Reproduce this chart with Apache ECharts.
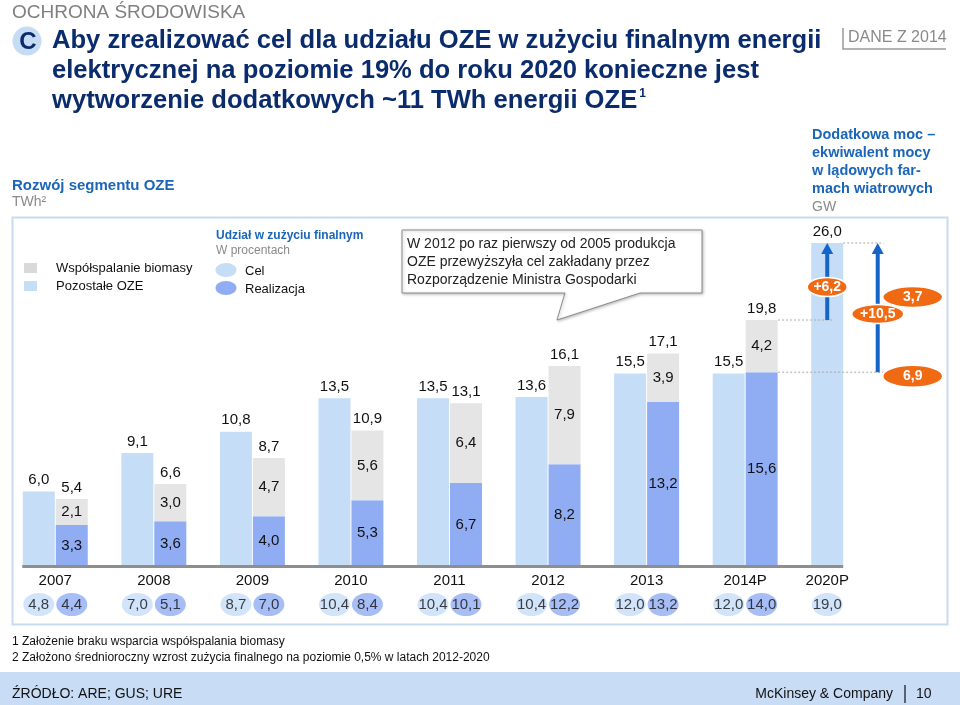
<!DOCTYPE html>
<html><head><meta charset="utf-8">
<script src="https://cdn.jsdelivr.net/npm/echarts@6/dist/echarts.min.js"></script>
<style>html,body{margin:0;padding:0;background:#fff}#c{width:960px;height:705px}</style>
</head><body><div id="c"></div>
<script>
// ---- data ----
var categories = ['2007','2008','2009','2010','2011','2012','2013','2014P','2020P'];
var targetTWh = [6.0, 9.1, 10.8, 13.5, 13.5, 13.6, 15.5, 15.5, 26.0];
var otherRES = [3.3, 3.6, 4.0, 5.3, 6.7, 8.2, 13.2, 15.6, null];
var biomassCofiring = [2.1, 3.0, 4.7, 5.6, 6.4, 7.9, 3.9, 4.2, null];
var shareTarget = [4.8, 7.0, 8.7, 10.4, 10.4, 10.4, 12.0, 12.0, 19.0];
var shareActual = [4.4, 5.1, 7.0, 8.4, 10.1, 12.2, 13.2, 14.0, null];
var gapTWh = [6.2, 10.5];
var windGW = [6.9, 3.7];

var FONT = '"Liberation Sans", Arial, sans-serif';
function fmt(v){ return (v == null) ? '' : v.toFixed(1).replace('.', ','); }
var totals = otherRES.map(function(v, i){ return v == null ? null : +(v + biomassCofiring[i]).toFixed(1); });

var C_TARGET = '#C5DDF7', C_REAL = '#90ADF4', C_GRAY = '#E5E5E5', C_OR = '#EF6A12', C_ARROW = '#1565C8';
var NAVY = '#0B2C6C', BLUE = '#1B66B8', GREYT = '#8A8A8A';

function T(text, x, y, font, fill, align){
  return {type:'text', x:x, y:y, silent:true, style:{text:text, font:font, fill:fill||'#111', align:align||'left', verticalAlign:'middle'}};
}

function renderAnnot(params, api){
  var half = 16.5;
  var x20 = api.coord([8, 0])[0];
  var x14 = api.coord([7, 0])[0];
  var x07 = api.coord([0, 0])[0];
  var y0 = api.coord([0, 0])[1];
  var yT = api.coord([8, targetTWh[8]])[1];
  var yA = api.coord([7, totals[7]])[1];
  var yB = api.coord([7, otherRES[7]])[1];
  var xA1 = x20 - half, xA2 = x20 + 34, xE = xA2 + 35;
  var dash = {stroke:'#A8A8A8', lineWidth:1, lineDash:[2,2]};
  var kids = [];
  kids.push({type:'rect', shape:{x:x07 - 33, y:y0 - 1, width:(x20 - 0.5) - (x07 - 33), height:3}, style:{fill:'#8E8E8E'}});
  kids.push({type:'line', shape:{x1:x14 + 33, y1:yA, x2:xA1 + 6, y2:yA}, style:dash});
  kids.push({type:'line', shape:{x1:x20 - 0.5, y1:yT, x2:xA2 + 6, y2:yT}, style:dash});
  kids.push({type:'line', shape:{x1:x14 + 33, y1:yB, x2:xE - 29, y2:yB}, style:dash});
  [[xA1, yA], [xA2, yB]].forEach(function(a){
    kids.push({type:'line', shape:{x1:a[0], y1:a[1], x2:a[0], y2:yT + 10}, style:{stroke:C_ARROW, lineWidth:4}});
    kids.push({type:'polygon', shape:{points:[[a[0]-6, yT+11],[a[0]+6, yT+11],[a[0], yT]]}, style:{fill:C_ARROW}});
  });
  function ell(cx, cy, rx, ry, txt){
    kids.push({type:'ellipse', shape:{cx:cx, cy:cy, rx:rx, ry:ry}, style:{fill:C_OR, stroke:'#fff', lineWidth:1.5}});
    kids.push({type:'text', x:cx, y:cy, style:{text:txt, font:'bold 14px ' + FONT, fill:'#fff', align:'center', verticalAlign:'middle'}});
  }
  var m1 = (yA + yT) / 2, m2 = (yB + yT) / 2;
  ell(xA1, m1 + 5.5, 20, 9.5, '+' + fmt(gapTWh[0]));
  ell(xA2, m2 + 6.5, 26, 9.5, '+' + fmt(gapTWh[1]));
  ell(xE, m2 - 10.5, 30, 10.5, fmt(windGW[1]));
  ell(xE, yB + 4, 30, 11, fmt(windGW[0]));
  return {type:'group', children:kids};
}

var chart = echarts.init(document.getElementById('c'), null, {renderer:'canvas'});
var barLabel = {fontSize:15, fontFamily:FONT, color:'#111'};
var TF = 'bold 25.6px ' + FONT;
var option = {
  backgroundColor:'#fff',
  animation:false,
  textStyle:{fontFamily:FONT},
  grid:[
    {left:6, top:243, width:887, height:323},
    {left:6, top:593, width:887, height:23}
  ],
  xAxis:[
    {type:'category', gridIndex:0, data:categories, axisLine:{show:false}, axisTick:{show:false},
     axisLabel:{fontSize:15, color:'#111', fontFamily:FONT, margin:7,
       formatter:function(v, i){ return i === categories.length - 1 ? '{s|' + v + '}' : v; },
       rich:{s:{fontSize:15, color:'#111', fontFamily:FONT, padding:[0,33,0,0]}}}},
    {type:'category', gridIndex:1, data:categories, show:false}
  ],
  yAxis:[
    {type:'value', gridIndex:0, min:0, max:26, show:false, splitLine:{show:false}},
    {type:'category', gridIndex:1, data:['%'], show:false}
  ],
  series:[
    {name:'Cel', type:'bar', data:targetTWh, barWidth:32, barGap:'3%', itemStyle:{color:C_TARGET},
     label:Object.assign({show:true, position:'top', distance:4, formatter:function(p){return fmt(p.value);}}, barLabel)},
    {name:'Pozostałe OZE', type:'bar', stack:'r', data:otherRES, barWidth:32, barGap:'3%', itemStyle:{color:C_REAL},
     label:Object.assign({show:true, position:'inside', formatter:function(p){return fmt(p.value);}}, barLabel)},
    {name:'Współspalanie biomasy', type:'bar', stack:'r', data:biomassCofiring, barWidth:32, barGap:'3%', itemStyle:{color:C_GRAY},
     label:Object.assign({show:true, position:'inside', formatter:function(p){return fmt(p.value);}}, barLabel)},
    {name:'Suma', type:'bar', stack:'r', data:totals.map(function(v){ return v == null ? null : 0; }), barWidth:32, barGap:'3%',
     itemStyle:{color:'rgba(0,0,0,0)'},
     label:Object.assign({show:true, position:'top', distance:4, formatter:function(p){return fmt(totals[p.dataIndex]);}}, barLabel)},
    {name:'annot', type:'custom', renderItem:renderAnnot, data:[[8, 26]], z:10, silent:true, clip:false},
    {name:'Udział cel', type:'scatter', xAxisIndex:1, yAxisIndex:1, symbol:'circle', symbolSize:[31,23], symbolOffset:[-16.5,0],
     data:shareTarget.map(function(v, i){ return [i, 0, v]; }), itemStyle:{color:C_TARGET}, silent:true,
     label:Object.assign({show:true, position:'inside', formatter:function(p){return fmt(p.value[2]);}}, barLabel)},
    {name:'Udział realizacja', type:'scatter', xAxisIndex:1, yAxisIndex:1, symbol:'circle', symbolSize:[31,23], symbolOffset:[16.5,0],
     data:shareActual.map(function(v, i){ return [i, 0, v]; }).filter(function(d){ return d[2] != null; }),
     itemStyle:{color:C_REAL}, silent:true,
     label:Object.assign({show:true, position:'inside', formatter:function(p){return fmt(p.value[2]);}}, barLabel)}
  ],
  graphic:[
    T('OCHRONA ŚRODOWISKA', 12, 13, '19px ' + FONT, '#7F7F7F'),
    {type:'circle', shape:{cx:27, cy:41, r:14.5}, style:{fill:'#C6DCF5'}, silent:true},
    T('C', 28, 42, 'bold 24px ' + FONT, NAVY, 'center'),
    T('Aby zrealizować cel dla udziału OZE w zużyciu finalnym energii', 52, 41, TF, NAVY),
    T('elektrycznej na poziomie 19% do roku 2020 konieczne jest', 52, 71, TF, NAVY),
    {type:'text', x:52, y:101, silent:true, style:{
      text:'{a|wytworzenie dodatkowych ~11 TWh energii OZE}{s|1}', align:'left', verticalAlign:'middle',
      rich:{a:{font:TF, fill:NAVY}, s:{font:'bold 12px ' + FONT, fill:NAVY, verticalAlign:'top', padding:[0,0,0,2]}}}},
    {type:'polyline', shape:{points:[[843,28],[843,49],[946,49]]}, style:{stroke:'#9A9A9A', lineWidth:1.5, fill:null}, silent:true},
    T('DANE Z 2014', 848, 38, '16px ' + FONT, GREYT),
    T('Rozwój segmentu OZE', 12, 186, 'bold 15px ' + FONT, BLUE),
    T('TWh²', 12, 202, '14px ' + FONT, GREYT),
    T('Dodatkowa moc –', 812, 135, 'bold 14.5px ' + FONT, BLUE),
    T('ekwiwalent mocy', 812, 153, 'bold 14.5px ' + FONT, BLUE),
    T('w lądowych far-', 812, 171, 'bold 14.5px ' + FONT, BLUE),
    T('mach wiatrowych', 812, 189, 'bold 14.5px ' + FONT, BLUE),
    T('GW', 812, 207, '14px ' + FONT, GREYT),
    {type:'rect', shape:{x:12.5, y:217.5, width:935, height:407}, style:{fill:null, stroke:'#C9DBF0', lineWidth:2}, silent:true},
    {type:'rect', shape:{x:24, y:263, width:13, height:10}, style:{fill:'#D9D9D9'}, silent:true},
    {type:'rect', shape:{x:24, y:281, width:13, height:10}, style:{fill:C_TARGET}, silent:true},
    T('Współspalanie biomasy', 56, 268, '13px ' + FONT, '#111'),
    T('Pozostałe OZE', 56, 286, '13px ' + FONT, '#111'),
    T('Udział w zużyciu finalnym', 216, 236, 'bold 12px ' + FONT, BLUE),
    T('W procentach', 216, 251, '12px ' + FONT, GREYT),
    {type:'ellipse', shape:{cx:226, cy:270, rx:10.5, ry:7}, style:{fill:C_TARGET}, silent:true},
    {type:'ellipse', shape:{cx:226, cy:288, rx:10.5, ry:7}, style:{fill:C_REAL}, silent:true},
    T('Cel', 245, 271, '13px ' + FONT, '#111'),
    T('Realizacja', 245, 289, '13px ' + FONT, '#111'),
    {type:'polygon', shape:{points:[[402,230],[702,230],[702,293],[640,293],[557,320],[565,293],[402,293]]},
     style:{fill:'#fff', stroke:'#8C8C8C', lineWidth:1, shadowBlur:3, shadowOffsetX:1, shadowOffsetY:1, shadowColor:'rgba(0,0,0,0.25)'}, silent:true},
    T('W 2012 po raz pierwszy od 2005 produkcja', 407, 244, '14px ' + FONT, '#222'),
    T('OZE przewyższyła cel zakładany przez', 407, 262, '14px ' + FONT, '#222'),
    T('Rozporządzenie Ministra Gospodarki', 407, 280, '14px ' + FONT, '#222'),
    T('1 Założenie braku wsparcia współspalania biomasy', 12, 642, '12px ' + FONT, '#111'),
    T('2 Założono średnioroczny wzrost zużycia finalnego na poziomie 0,5% w latach 2012-2020', 12, 658, '12px ' + FONT, '#111'),
    {type:'rect', shape:{x:0, y:672, width:960, height:33}, style:{fill:'#C8DCF5'}, silent:true},
    T('ŹRÓDŁO: ARE; GUS; URE', 12, 694, '14px ' + FONT, '#111'),
    T('McKinsey & Company', 893, 694, '14px ' + FONT, '#111', 'right'),
    {type:'line', shape:{x1:905, y1:685, x2:905, y2:703}, style:{stroke:'#111', lineWidth:1.2}, silent:true},
    T('10', 916, 694, '14px ' + FONT, '#111')
  ]
};
chart.setOption(option);
</script>
</body></html>
